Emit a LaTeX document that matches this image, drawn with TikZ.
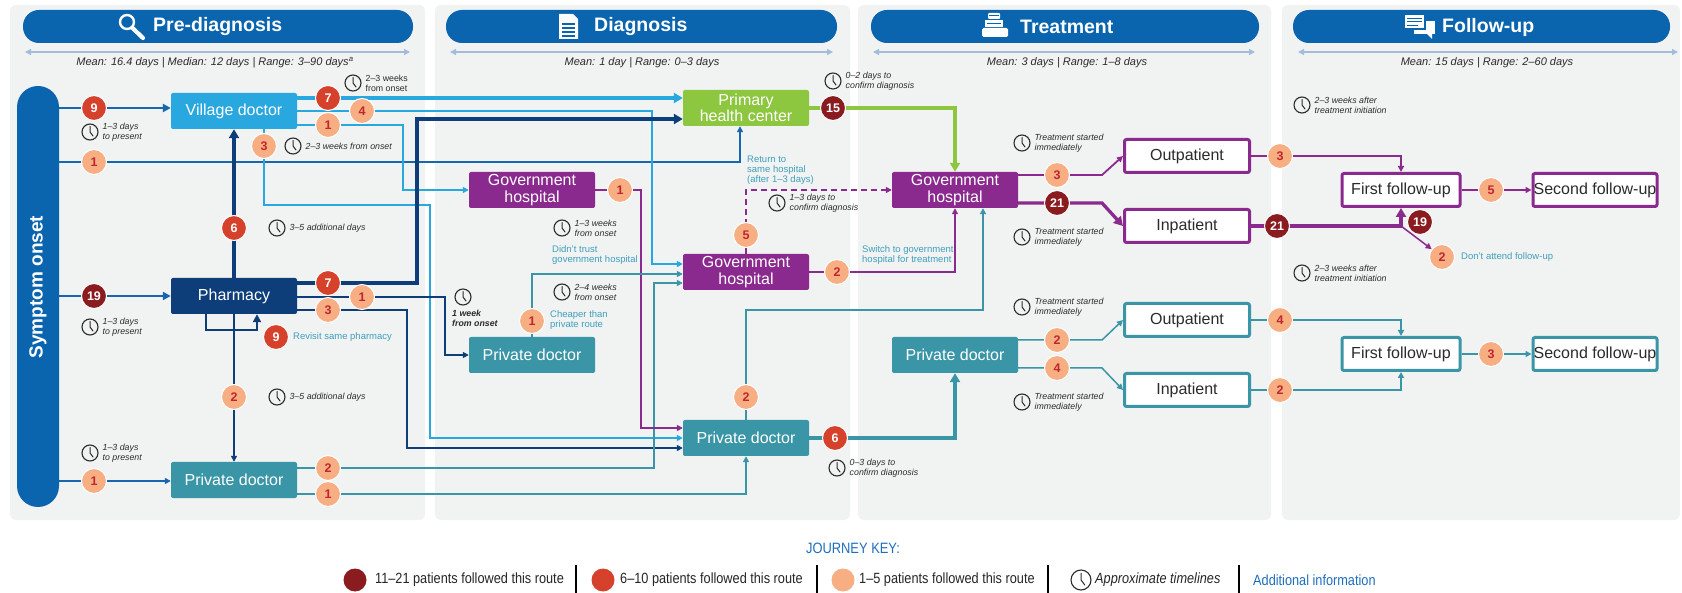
\documentclass[tikz,border=0pt]{standalone}
\usepackage{fontspec}
\setmainfont{Liberation Sans}
\newfontfamily\narrowfont{Liberation Sans}[FakeStretch=0.86]
\usetikzlibrary{arrows.meta}
\definecolor{hdr}{HTML}{0A64AE}
\definecolor{panelc}{HTML}{F1F2F2}
\definecolor{vdc}{HTML}{29A8E0}
\definecolor{navyc}{HTML}{0E3E7A}
\definecolor{midb}{HTML}{1766B0}
\definecolor{tealc}{HTML}{3A95A6}
\definecolor{purp}{HTML}{8B2A8E}
\definecolor{grn}{HTML}{8DC63F}
\definecolor{lbc}{HTML}{F6AE82}
\definecolor{mbc}{HTML}{D5412B}
\definecolor{dbc}{HTML}{8A1B1F}
\definecolor{numred}{HTML}{C0272D}
\definecolor{notec}{HTML}{3FA0BE}
\definecolor{tlc}{HTML}{A3BCDB}
\definecolor{txtc}{HTML}{2B2B2B}
\definecolor{legb}{HTML}{1E6EBE}
\tikzset{clockpic/.pic={
  \draw[txtc, line width=1.1pt] (0,0) circle[radius=8];
  \draw[txtc, line width=1pt, line cap=round, line join=round] (0,-5.5) -- (0,0) -- (3,4);
}}
\newcommand{\clocklab}[4]{%
  \pic at (#2,#3) {clockpic};
  \node[clk, anchor=west] (#1) at (#2+12.5,#3) {#4};}
\begin{document}
\begin{tikzpicture}[x=1pt,y=-1pt,
  box/.style={rectangle, rounded corners=2pt, minimum width=126pt, minimum height=36pt, inner sep=1pt, align=center, text=white, font=\fontsize{16}{16.5}\selectfont},
  obox/.style={box, fill=white, line width=3pt, minimum width=125pt, minimum height=33pt, text=txtc},
  lb/.style={circle, fill=lbc, draw=white, line width=1pt, text=numred, minimum size=25pt, inner sep=0pt, font=\bfseries\fontsize{12.5}{12.5}\selectfont},
  mb/.style={lb, fill=mbc, text=white},
  db/.style={lb, fill=dbc, text=white},
  ln/.style={line width=1.5pt, -{Triangle[length=6pt,width=6pt]}},
  med/.style={line width=2.4pt, -{Triangle[length=8pt,width=8pt]}},
  thk/.style={line width=3.3pt, -{Triangle[length=9pt,width=10pt]}},
  tl/.style={draw=tlc, line width=1.3pt, {Triangle[length=6pt,width=6pt]}-{Triangle[length=6pt,width=6pt]}},
  hdrtxt/.style={text=white, font=\bfseries\fontsize{19.5}{19.5}\selectfont, inner sep=0pt},
  meantxt/.style={text=txtc, font=\itshape\fontsize{11}{12}\selectfont, inner sep=0pt},
  clk/.style={text=txtc, font=\itshape\fontsize{8.8}{10}\selectfont, align=left, inner sep=0pt},
  notet/.style={text=notec, font=\fontsize{9.5}{10}\selectfont, align=left, inner sep=0pt, anchor=west},
  leg/.style={text=black!85, font=\narrowfont\fontsize{14.8}{14.8}\selectfont, inner sep=0pt, anchor=west},
  kc/.style={circle, minimum size=23pt, inner sep=0pt}
]
\useasboundingbox (0,0) rectangle (1682,593);
\fill[white] (0,0) rectangle (1682,593);
% panels
\fill[panelc, rounded corners=6pt] (10,5) rectangle (425,520);
\fill[panelc, rounded corners=6pt] (435,5) rectangle (850,520);
\fill[panelc, rounded corners=6pt] (858,5) rectangle (1271,520);
\fill[panelc, rounded corners=6pt] (1282,5) rectangle (1680,520);
% header pills
\fill[hdr, rounded corners=16pt] (23,10) rectangle (413,43);
\fill[hdr, rounded corners=16pt] (446,10) rectangle (837,43);
\fill[hdr, rounded corners=16pt] (871,10) rectangle (1259,43);
\fill[hdr, rounded corners=16pt] (1293,10) rectangle (1670,43);
\node[hdrtxt, anchor=west] (h1) at (153,27) {Pre-diagnosis};
\node[hdrtxt, anchor=west] (h2) at (594,27) {Diagnosis};
\node[hdrtxt, anchor=west] (h3) at (1020,27) {Treatment};
\node[hdrtxt, anchor=west] (h4) at (1442,27) {Follow-up};
% icons
\draw[white, line width=2.4pt] (127,22) circle[radius=7];
\draw[white, line width=4.2pt, line cap=round] (132.5,28) -- (143,38);
\fill[white] (559,14) -- (573,14) -- (578,19) -- (578,39) -- (559,39) -- cycle;
\draw[hdr, line width=1.2pt] (562,24) -- (575,24) (562,28) -- (575,28) (562,32) -- (575,32) (562,36) -- (575,36);
\fill[white, rounded corners=1pt] (988,13) rectangle (1000,19);
\fill[white] (985,20) rectangle (1003,27);
\fill[white, rounded corners=1.5pt] (982,28) rectangle (1008,37);
\draw[hdr, line width=1pt] (989,16) -- (999,16) (987,23.5) -- (1001,23.5);
\fill[white] (1414,21) rectangle (1435,34);
\fill[white] (1427,34) -- (1432,39) -- (1432,34) -- cycle;
\filldraw[fill=white, draw=hdr, line width=1.4pt] (1404,14) rectangle (1425,29);
\draw[hdr, line width=1pt] (1407,18.5) -- (1422,18.5) (1407,22) -- (1422,22) (1407,25.5) -- (1418,25.5);
% timeline arrows and means
\draw[tl] (25,52) -- (410,52);
\draw[tl] (450,52) -- (833,52);
\draw[tl] (873,52) -- (1255,52);
\draw[tl] (1298,52) -- (1678,52);
\node[meantxt] (m1) at (215,63) {Mean: 16.4 days | Median: 12 days | Range: 3–90 days\textsuperscript{a}};
\node[meantxt] (m2) at (642,63) {Mean: 1 day | Range: 0–3 days};
\node[meantxt] (m3) at (1067,63) {Mean: 3 days | Range: 1–8 days};
\node[meantxt] (m4) at (1487,63) {Mean: 15 days | Range: 2–60 days};
% symptom onset bar
\node[fill=hdr, rounded corners=21pt, minimum width=42pt, minimum height=421pt, inner sep=0pt] (SO) at (38,296.5) {};
\node[rotate=90, text=white, font=\bfseries\fontsize{19}{19}\selectfont, inner sep=0pt] (SOt) at (38,287) {Symptom onset};
% ---- boxes
\node[box, fill=vdc] (VD) at (234,111) {Village doctor};
\node[box, fill=navyc] (PH) at (234,296) {Pharmacy};
\node[box, fill=tealc] (PDa) at (234,480) {Private doctor};
\node[box, fill=grn] (PHC) at (746,108) {Primary\\health center};
\node[box, fill=purp] (GH1) at (532,190) {Government\\hospital};
\node[box, fill=purp] (GH2) at (746,272) {Government\\hospital};
\node[box, fill=tealc] (PD1) at (532,355) {Private doctor};
\node[box, fill=tealc] (PD2) at (746,438) {Private doctor};
\node[box, fill=purp] (TGH) at (955,190) {Government\\hospital};
\node[box, fill=tealc] (TPD) at (955,355) {Private doctor};
\node[obox, draw=purp] (OP1) at (1187,156) {Outpatient};
\node[obox, draw=purp] (IP1) at (1187,226) {Inpatient};
\node[obox, draw=tealc] (OP2) at (1187,320) {Outpatient};
\node[obox, draw=tealc] (IP2) at (1187,390) {Inpatient};
\node[obox, draw=purp, minimum width=118pt] (F1) at (1401,190) {First follow-up};
\node[obox, draw=purp, minimum width=124pt, inner sep=0.3pt] (S1) at (1595,190) {Second follow-up};
\node[obox, draw=tealc, minimum width=118pt] (F2) at (1401,354) {First follow-up};
\node[obox, draw=tealc, minimum width=124pt, inner sep=0.3pt] (S2) at (1595,354) {Second follow-up};
% ---- connectors: pre-diagnosis
\draw[med, midb] (SO.east |- 0,108) -- (VD.west |- 0,108);
\draw[ln, midb, line width=1.8pt] (SO.east |- 0,162) -- (740,162) -- (PHC.south -| 740,0);
\draw[med, midb] (SO.east |- PH.west) -- (PH.west);
\draw[ln, midb] (SO.east |- 0,481) -- (PDa.west |- 0,481);
\draw[thk, navyc] (PH.north) -- (VD.south);
\draw[ln, navyc] (PH.south) -- (PDa.north);
\draw[med, navyc] (PH.south -| 206,0) -- (206,330) -- (257,330) -- (PH.south -| 257,0);
\draw[thk, vdc] (VD.east |- 0,98) -- (PHC.west |- 0,98);
\draw[ln, vdc, line width=1.8pt] (VD.east) -- (652,111) -- (652,264) -- (GH2.west |- 0,264);
\draw[ln, vdc] (VD.east |- 0,125) -- (403,125) -- (403,190) -- (GH1.west);
\draw[ln, vdc] (VD.south -| 264,0) -- (264,205) -- (430,205) -- (430,438) -- (PD2.west);
\draw[thk, navyc, line width=3.6pt] (PH.east |- 0,283) -- (417,283) -- (417,119) -- (PHC.west |- 0,119);
\draw[ln, navyc, line width=1.8pt] (PH.east |- 0,297) -- (445,297) -- (445,355) -- (PD1.west);
\draw[ln, navyc] (PH.east |- 0,310) -- (407,310) -- (407,448) -- (PD2.west |- 0,448);
\draw[ln, tealc] (PDa.east |- 0,468) -- (654,468) -- (654,283) -- (GH2.west |- 0,283);
\draw[ln, tealc] (PDa.east |- 0,494) -- (PD2.south |- 0,494) -- (PD2.south);
% ---- diagnosis
\draw[ln, purp] (GH1.east) -- (641,190) -- (641,428) -- (PD2.west |- 0,428);
\draw[ln, tealc] (PD1.north) -- (532,274) -- (GH2.west |- 0,274);
\draw[purp, line width=1.8pt] (GH2.north) -- (746,235);
\draw[purp, line width=1.8pt, dash pattern=on 6pt off 4pt, -{Triangle[length=6pt,width=6pt]}] (746,235) -- (746,190) -- (TGH.west);
\draw[ln, purp] (GH2.east) -| (TGH.south);
\draw[ln, tealc] (PD2.north) -- (746,310) -| ([xshift=28pt]TGH.south);
\draw[thk, grn, line width=3.6pt] (PHC.east) -| (TGH.north);
\draw[thk, tealc, line width=3.6pt] (PD2.east) -| (TPD.south);
% ---- treatment
\draw[ln, purp, line width=1.8pt] (TGH.east |- 0,175) -- (1102,175) -- (OP1.west);
\draw[thk, purp] (TGH.east |- 0,203) -- (1102,203) -- (IP1.west);
\draw[ln, tealc] (TPD.east |- 0,340) -- (1102,340) -- (OP2.west);
\draw[ln, tealc] (TPD.east |- 0,368) -- (1102,368) -- (IP2.west);
% ---- follow-up
\draw[ln, purp] (OP1.east) -| (F1.north);
\draw[thk, purp] (IP1.east) -| (F1.south);
\draw[ln, purp] (F1) -- (S1);
\draw[ln, tealc] (OP2.east) -| (F2.north);
\draw[ln, tealc] (IP2.east) -| (F2.south);
\draw[ln, tealc] (F2) -- (S2);
% ---- badges
\node[mb] (a1) at (94,108) {9};
\node[lb] (a2) at (94,162) {1};
\node[db] (a3) at (94,296) {19};
\node[lb] (a4) at (94,481) {1};
\node[mb] (a5) at (328,98) {7};
\node[lb] (a6) at (362,111) {4};
\node[lb] (a7) at (328,125) {1};
\node[lb] (a8) at (264,146) {3};
\node[mb] (a9) at (234,228) {6};
\node[mb] (a10) at (328,283) {7};
\node[lb] (a11) at (362,297) {1};
\node[lb] (a12) at (328,310) {3};
\node[mb] (a13) at (276,337) {9};
\node[lb] (a14) at (234,397) {2};
\node[lb] (a15) at (328,468) {2};
\node[lb] (a16) at (328,494) {1};
\node[lb] (d1) at (620,190) {1};
\node[lb] (d2) at (532,321) {1};
\node[lb] (d3) at (746,235) {5};
\node[lb] (d4) at (837,272) {2};
\node[lb] (d5) at (746,397) {2};
\node[db] (d6) at (833,108) {15};
\node[mb] (d7) at (835,438) {6};
\node[lb] (t1) at (1057,175) {3};
\node[db] (t2) at (1057,203) {21};
\node[lb] (t3) at (1057,340) {2};
\node[lb] (t4) at (1057,368) {4};
\node[lb] (t5) at (1280,156) {3};
\node[db] (t6) at (1277,226) {21};
\node[lb] (t7) at (1280,320) {4};
\node[lb] (t8) at (1280,390) {2};
\node[db] (f1) at (1420,222) {19};
\node[lb] (f2) at (1442,257) {2};
\node[lb] (f3) at (1491,190) {5};
\node[lb] (f4) at (1491,354) {3};
\draw[ln, purp] (F1.south |- IP1.east) -- (f2);
% ---- clocks
\clocklab{c1}{353}{83}{\upshape 2–3 weeks\\\upshape from onset}
\clocklab{c2}{90}{132}{1–3 days\\to present}
\clocklab{c3}{293}{146}{2–3 weeks from onset}
\clocklab{c4}{277}{228}{3–5 additional days}
\clocklab{c5}{90}{327}{1–3 days\\to present}
\clocklab{c6}{277}{397}{3–5 additional days}
\clocklab{c7}{90}{453}{1–3 days\\to present}
\pic at (463,297) {clockpic};
\node[clk, anchor=north west, font=\bfseries\itshape\fontsize{8.8}{10}\selectfont] (c8) at (452,310) {1 week\\from onset};
\clocklab{c9}{562}{228}{1–3 weeks\\from onset}
\clocklab{c10}{562}{292}{2–4 weeks\\from onset}
\clocklab{c11}{777}{203}{1–3 days to\\confirm diagnosis}
\clocklab{c12}{833}{81}{0–2 days to\\confirm diagnosis}
\clocklab{c13}{837}{468}{0–3 days to\\confirm diagnosis}
\clocklab{c14}{1022}{143}{Treatment started\\immediately}
\clocklab{c15}{1022}{237}{Treatment started\\immediately}
\clocklab{c16}{1022}{307}{Treatment started\\immediately}
\clocklab{c17}{1022}{402}{Treatment started\\immediately}
\clocklab{c18}{1302}{105}{2–3 weeks after\\treatment initiation}
\clocklab{c19}{1302}{273}{2–3 weeks after\\treatment initiation}
% ---- notes
\node[notet] (n1) at (293,337) {Revisit same pharmacy};
\node[notet] (n2) at (552,255) {Didn’t trust\\government hospital};
\node[notet] (n3) at (550,320) {Cheaper than\\private route};
\node[notet] (n4) at (747,170) {Return to\\same hospital\\(after 1–3 days)};
\node[notet] (n5) at (862,255.5) {Switch to government\\hospital for treatment};
\node[notet] (n6) at (1461,257) {Don’t attend follow-up};
% ---- legend
\node[text=legb, font=\narrowfont\fontsize{15}{15}\selectfont, inner sep=0pt] (jk) at (853,548) {JOURNEY KEY:};
\node[kc, fill=dbc] (k1) at (355,580) {};
\node[leg] (k1t) at (375,580) {11–21 patients followed this route};
\node[kc, fill=mbc] (k2) at (603,580) {};
\node[leg] (k2t) at (620,580) {6–10 patients followed this route};
\node[kc, fill=lbc] (k3) at (843,580) {};
\node[leg] (k3t) at (859,580) {1–5 patients followed this route};
\pic[scale=1.25] at (1081,580) {clockpic};
\node[leg, font=\narrowfont\itshape\fontsize{14.8}{14.8}\selectfont] (k4t) at (1095,580) {Approximate timelines};
\node[leg, text=legb] (k5t) at (1253,580) {Additional information};
\draw[black, line width=1.2pt] (576,565) -- (576,593) (817,565) -- (817,593) (1048,565) -- (1048,593) (1239,565) -- (1239,593);
\end{tikzpicture}
\end{document}
